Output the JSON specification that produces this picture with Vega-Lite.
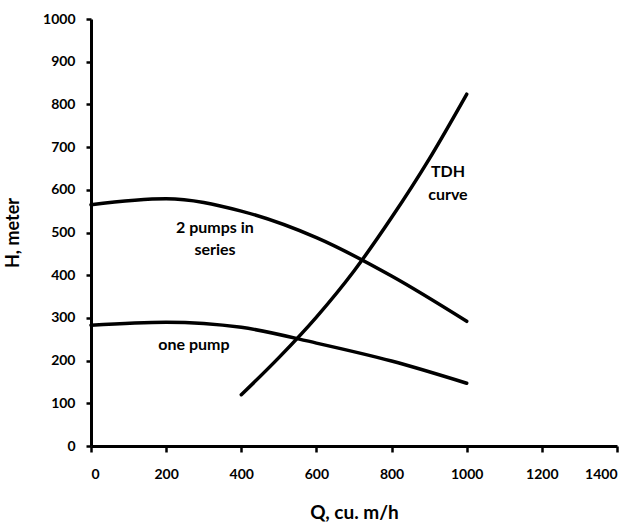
{
  "$schema": "https://vega.github.io/schema/vega-lite/v6.json",
  "width": 526,
  "height": 427,
  "autosize": "none",
  "padding": {"left": 91, "top": 19, "right": 22, "bottom": 81},
  "background": "white",
  "config": {"view": {"stroke": null}, "font": "Lato"},
  "layer": [
    {
      "data": {"values": [
        {"series": "one pump", "Q": 0, "H": 283},
        {"series": "one pump", "Q": 200, "H": 290},
        {"series": "one pump", "Q": 400, "H": 278},
        {"series": "one pump", "Q": 600, "H": 241},
        {"series": "one pump", "Q": 800, "H": 199},
        {"series": "one pump", "Q": 1000, "H": 147},
        {"series": "2 pumps", "Q": 0, "H": 565},
        {"series": "2 pumps", "Q": 200, "H": 579},
        {"series": "2 pumps", "Q": 400, "H": 550},
        {"series": "2 pumps", "Q": 600, "H": 488},
        {"series": "2 pumps", "Q": 800, "H": 398},
        {"series": "2 pumps", "Q": 1000, "H": 292},
        {"series": "TDH", "Q": 400, "H": 120},
        {"series": "TDH", "Q": 500, "H": 207},
        {"series": "TDH", "Q": 600, "H": 302},
        {"series": "TDH", "Q": 700, "H": 410},
        {"series": "TDH", "Q": 800, "H": 535},
        {"series": "TDH", "Q": 900, "H": 672},
        {"series": "TDH", "Q": 1000, "H": 824}
      ]},
      "mark": {"type": "line", "interpolate": "monotone", "color": "black", "strokeWidth": 3.5, "strokeCap": "round"},
      "encoding": {
        "x": {"field": "Q", "type": "quantitative",
          "scale": {"domain": [0, 1400], "nice": false},
          "axis": {"values": [0,200,400,600,800,1000,1200,1400], "format": "d", "title": "Q, cu. m/h", "grid": false,
            "domainColor": "black", "domainWidth": 3, "tickColor": "black", "tickWidth": 2.5, "tickSize": 6,
            "labelFont": "Lato", "labelFontWeight": "bold", "labelFontSize": 14, "labelColor": "black", "labelPadding": 15,
            "titleFont": "Lato", "titleFontWeight": "bold", "titleFontSize": 19, "titleColor": "black", "titlePadding": 22}},
        "y": {"field": "H", "type": "quantitative",
          "scale": {"domain": [0, 1000], "nice": false},
          "axis": {"values": [0,100,200,300,400,500,600,700,800,900,1000], "format": "d", "title": "H, meter", "grid": false,
            "domainColor": "black", "domainWidth": 3, "tickColor": "black", "tickWidth": 2.5, "tickSize": 5,
            "labelFont": "Lato", "labelFontWeight": "bold", "labelFontSize": 14, "labelColor": "black", "labelPadding": 11,
            "titleFont": "Lato", "titleFontWeight": "bold", "titleFontSize": 18, "titleColor": "black", "titlePadding": 20}},
        "detail": {"field": "series", "type": "nominal"}
      }
    },
    {
      "data": {"values": [
        {"label": "2 pumps in", "Q": 330, "H": 510},
        {"label": "series", "Q": 330, "H": 459},
        {"label": "one pump", "Q": 274, "H": 236},
        {"label": "TDH", "Q": 950, "H": 642},
        {"label": "curve", "Q": 950, "H": 588}
      ]},
      "mark": {"type": "text", "font": "Lato", "fontWeight": "bold", "fontSize": 16, "color": "black", "align": "center", "baseline": "middle"},
      "encoding": {
        "x": {"field": "Q", "type": "quantitative"},
        "y": {"field": "H", "type": "quantitative"},
        "text": {"field": "label", "type": "nominal"}
      }
    }
  ]
}
